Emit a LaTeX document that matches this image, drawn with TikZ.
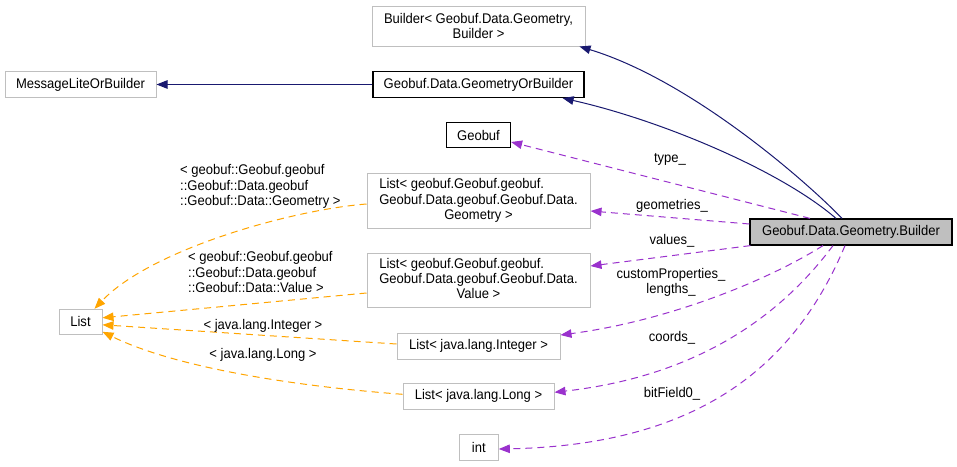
\documentclass[tikz,border=0pt]{standalone}
\usepackage{fontspec}
\setmainfont{Liberation Sans}[FakeStretch=0.93]
\usetikzlibrary{arrows.meta}
\definecolor{navy}{HTML}{191970}
\definecolor{orchid}{HTML}{9A32CD}
\definecolor{orng}{HTML}{FFA500}
\definecolor{grayb}{HTML}{BFBFBF}
\begin{document}
\begin{tikzpicture}[x=1pt,y=-1pt,
  font=\fontsize{14}{15.2}\selectfont,
  box/.style={draw=grayb,line width=1pt,inner sep=0pt,align=center,fill=white},
  bbox/.style={draw=black,line width=1.2pt,inner sep=0pt,align=center,fill=white},
  inh/.style={draw=navy,line width=1pt,-{Triangle[length=11pt,width=8.5pt]}},
  use/.style={draw=orchid,line width=1pt,dash pattern=on 7pt off 5pt,-{Triangle[length=11pt,width=8.5pt]}},
  tmpl/.style={draw=orng,line width=1pt,dash pattern=on 7pt off 5pt,-{Triangle[length=11pt,width=8.5pt]}},
  lbl/.style={inner sep=0pt,align=center}
]
\fill[white] (0,0) rectangle (957,466);
\useasboundingbox (0,0) rectangle (957,466);

% nodes
\node[box,minimum width=213pt,minimum height=40pt] (bld) at (478.5,26) {Builder< Geobuf.Data.Geometry,\\Builder >};
\node[box,minimum width=151pt,minimum height=26pt] (mlob) at (80.5,84.5) {MessageLiteOrBuilder};
\node[bbox,minimum width=211pt,minimum height=26pt] (gob) at (478.5,84.5) {Geobuf.Data.GeometryOrBuilder};
\node[bbox,minimum width=64pt,minimum height=25pt] (geobuf) at (478.5,135) {Geobuf};
\node[box,minimum width=223pt,minimum height=55pt] (lgeom) at (478.5,201) {\begin{tabular}{@{}l@{}}List< geobuf.Geobuf.geobuf.\\Geobuf.Data.geobuf.Geobuf.Data.\\\multicolumn{1}{@{}c@{}}{Geometry >}\end{tabular}};
\node[box,minimum width=223pt,minimum height=54pt] (lval) at (478.5,280.5) {\begin{tabular}{@{}l@{}}List< geobuf.Geobuf.geobuf.\\Geobuf.Data.geobuf.Geobuf.Data.\\\multicolumn{1}{@{}c@{}}{Value >}\end{tabular}};
\node[box,minimum width=43pt,minimum height=25pt] (list) at (80.5,321.8) {List};
\node[box,minimum width=163pt,minimum height=26pt] (lint) at (478.5,346) {List< java.lang.Integer >};
\node[box,minimum width=151pt,minimum height=26pt] (llong) at (478.5,396.3) {List< java.lang.Long >};
\node[box,minimum width=39pt,minimum height=26pt] (int) at (478.8,447) {int};
\node[bbox,fill=grayb,minimum width=202pt,minimum height=26pt] (main) at (851,232) {Geobuf.Data.Geometry.Builder};

% inheritance
\draw[inh] ([xshift=-9pt]main.north) .. controls (805,180) and (690,80) .. ([xshift=-6pt]bld.south east);
\draw[inh] ([xshift=-15pt]main.north) .. controls (780,170) and (660,120) .. ([xshift=-22pt]gob.south east);
\draw[inh] (gob.west) -- (mlob.east);

% usage
\draw[use] ([xshift=-41pt]main.north) -- ([yshift=-7pt]geobuf.east);
\draw[use] ([yshift=8pt]main.west) -- ([yshift=-10pt]lgeom.east);
\draw[use] ([xshift=1pt]main.south west) -- ([yshift=14.5pt]lval.east);
\draw[use] ([xshift=-28pt]main.south) .. controls (760,285) and (660,322) .. ([yshift=11pt]lint.east);
\draw[use] ([xshift=-18pt]main.south) .. controls (770,330) and (680,378) .. ([yshift=4pt]llong.east);
\draw[use] ([xshift=-6pt]main.south) .. controls (795,365) and (700,445) .. ([yshift=-2pt]int.east);

\node[lbl] (ltype) at (670,159) {type\_};
\node[lbl] (lgeo) at (672,206) {geometries\_};
\node[lbl] (lvals) at (672,241) {values\_};
\node[lbl] (lcust) at (671,282.5) {customProperties\_\\lengths\_};
\node[lbl] (lcoord) at (672,338) {coords\_};
\node[lbl] (lbit) at (672,394) {bitField0\_};

% template instances
\draw[tmpl] ([yshift=-3pt]lgeom.west) .. controls (290,210) and (150,250) .. ([xshift=14pt]list.north);
\draw[tmpl] ([yshift=-12.5pt]lval.west) -- ([yshift=4pt]list.east);
\draw[tmpl] ([yshift=2pt]lint.west) -- ([yshift=-3pt]list.east);
\draw[tmpl] ([yshift=2pt]llong.west) .. controls (280,385) and (170,365) .. ([yshift=-10pt]list.east);

\node[lbl,anchor=west,align=left] (tg) at (180,186.5) {< geobuf::Geobuf.geobuf\\::Geobuf::Data.geobuf\\::Geobuf::Data::Geometry >};
\node[lbl,anchor=west,align=left] (tv) at (188,272) {< geobuf::Geobuf.geobuf\\::Geobuf::Data.geobuf\\::Geobuf::Data::Value >};
\node[lbl] (ti) at (263,326) {< java.lang.Integer >};
\node[lbl] (tl) at (263,355) {< java.lang.Long >};
\end{tikzpicture}
\end{document}
